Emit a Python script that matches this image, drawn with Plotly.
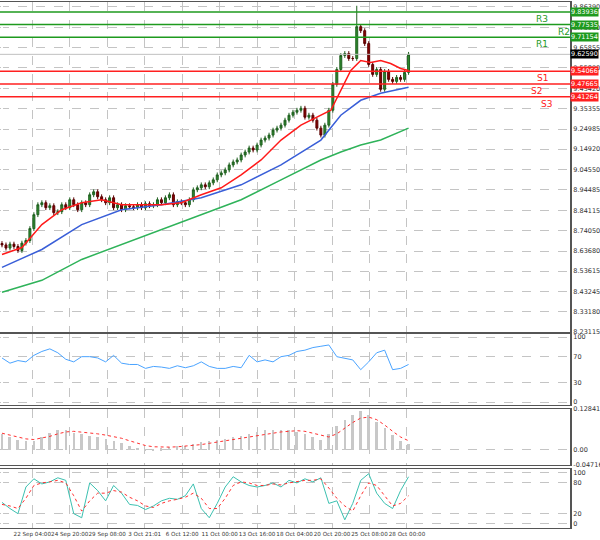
import plotly.graph_objects as go
from plotly.subplots import make_subplots

closes = [8.668,8.652,8.672,8.66,8.64,8.677,8.69,8.75,8.82,8.87,8.88,8.855,8.865,8.83,8.835,8.87,8.855,8.895,8.87,8.845,
8.88,8.87,8.92,8.935,8.91,8.895,8.88,8.905,8.855,8.87,8.845,8.865,8.86,8.855,8.87,8.855,8.875,8.865,8.87,8.895,
8.88,8.905,8.92,8.87,8.885,8.88,8.87,8.895,8.945,8.955,8.97,8.96,8.98,8.995,9.02,9.03,9.045,9.07,9.085,9.095,
9.12,9.135,9.155,9.145,9.17,9.195,9.205,9.22,9.245,9.255,9.27,9.295,9.32,9.335,9.345,9.355,9.31,9.32,9.295,9.255,
9.22,9.27,9.345,9.475,9.55,9.62,9.63,9.605,9.605,9.765,9.745,9.68,9.575,9.525,9.55,9.45,9.54,9.5,9.49,9.51,9.5,9.535,9.6259]
opens = [8.675] + closes[:-1]
highs = [max(o, c) + 0.012 for o, c in zip(opens, closes)]
lows = [min(o, c) - 0.012 for o, c in zip(opens, closes)]
highs[89] = 9.87

ma_x = [0,5,10,15,20,25,30,35,40,45,50,55,60,65,70,75,80,82.5,85,87.5,90,92.5,95,97.5,100,102]
ma_red = [8.62,8.655,8.77,8.845,8.88,8.895,8.87,8.87,8.87,8.88,8.92,8.955,9.02,9.095,9.195,9.27,9.32,9.345,9.445,9.545,9.595,9.585,9.595,9.58,9.555,9.545]
ma_x2 = [0,10,20,30,40,50,60,70,80,85,90,95,102]
ma_blue = [8.555,8.645,8.77,8.845,8.87,8.905,8.97,9.07,9.195,9.32,9.395,9.43,9.46]
ma_green = [8.43,8.49,8.595,8.67,8.745,8.82,8.895,8.995,9.095,9.135,9.17,9.195,9.255]

rsi_x = list(range(0, 103, 2))
rsi = [68,60,64,62,72,78,82,76,66,62,70,70,68,62,72,60,58,58,52,55,54,52,56,53,56,62,55,52,52,55,53,72,62,65,62,70,72,78,80,84,86,88,70,68,65,50,62,76,80,50,52,58]

macd_x = list(range(0, 103, 2))
macd_h = [0.05,0.04,0.032,0.028,0.03,0.042,0.055,0.065,0.062,0.055,0.05,0.045,0.04,0.036,0.03,0.022,0.014,0.008,0.004,0.004,0.006,0.01,0.012,0.014,0.018,0.024,0.028,0.032,0.036,0.04,0.046,0.052,0.058,0.062,0.064,0.064,0.062,0.058,0.05,0.04,0.032,0.05,0.075,0.095,0.112,0.125,0.11,0.09,0.07,0.048,0.03,0.018]
macd_s = [0.052,0.046,0.04,0.034,0.032,0.036,0.042,0.05,0.056,0.058,0.056,0.053,0.05,0.046,0.042,0.036,0.028,0.02,0.013,0.009,0.008,0.008,0.009,0.011,0.013,0.016,0.02,0.024,0.028,0.032,0.036,0.041,0.046,0.05,0.054,0.056,0.058,0.06,0.058,0.052,0.044,0.04,0.05,0.068,0.086,0.1,0.103,0.095,0.078,0.058,0.04,0.028]

st_x = list(range(0, 103, 2))
st_main = [42,30,20,72,88,78,82,90,85,20,12,80,65,45,75,60,38,36,28,35,45,50,48,55,78,30,12,40,72,92,82,75,72,75,80,72,85,80,88,82,90,40,45,8,40,85,98,60,40,30,65,92]
st_sig = [38,35,30,50,75,80,82,85,80,55,25,45,60,60,65,62,52,45,35,32,40,45,48,52,60,50,30,30,50,75,82,80,75,75,78,76,80,82,85,85,88,70,50,35,25,55,80,75,55,35,40,55]

xt_vals = [-1.8, 7.6, 17, 26.4, 35.8, 45.2, 54.6, 64, 73.4, 82.8, 92.2, 101.6]
xt_text = ["21 Sep 12:00","22 Sep 04:00","24 Sep 20:00","29 Sep 08:00","3 Oct 21:01","6 Oct 12:00","11 Oct 00:00",
           "13 Oct 16:00","18 Oct 04:00","20 Oct 20:00","25 Oct 08:00","28 Oct 00:00"]

levels = [("R3",9.83936,"#1e9a1e"),("R2",9.77535,"#1e9a1e"),("R1",9.71154,"#1e9a1e"),
          ("S1",9.54066,"#ff2020"),("S2",9.47665,"#ff2020"),("S3",9.41264,"#ff2020")]
price_ticks = [8.23115,8.33180,8.43245,8.53615,8.63680,8.74050,8.84115,8.94485,9.04550,9.14920,9.24985,9.35355,9.45420,9.55890,9.65855,9.75930,9.86390]
last_price = 9.62590

fig = make_subplots(rows=4, cols=1, shared_xaxes=True)
fig.add_trace(go.Candlestick(x=list(range(len(closes))), open=opens, high=highs, low=lows, close=closes,
    increasing=dict(line=dict(color="#1f5f1f", width=1), fillcolor="#2e8b2e"),
    decreasing=dict(line=dict(color="#5a0000", width=1), fillcolor="#8b0000"),
    whiskerwidth=0), row=1, col=1)
fig.add_trace(go.Scatter(x=ma_x2, y=ma_green, mode="lines", line=dict(color="#2fb35a", width=1.5)), row=1, col=1)
fig.add_trace(go.Scatter(x=ma_x2, y=ma_blue, mode="lines", line=dict(color="#3a5fd8", width=1.5)), row=1, col=1)
fig.add_trace(go.Scatter(x=ma_x, y=ma_red, mode="lines", line=dict(color="#ff1a1a", width=1.5)), row=1, col=1)
fig.add_trace(go.Scatter(x=rsi_x, y=rsi, mode="lines", line=dict(color="#4aa3ff", width=1)), row=2, col=1)
fig.add_trace(go.Bar(x=macd_x, y=macd_h, marker=dict(color="#c8c8c8", line=dict(width=0)), width=0.5), row=3, col=1)
fig.add_trace(go.Scatter(x=macd_x, y=macd_s, mode="lines", line=dict(color="#ff3030", width=1, dash="dot")), row=3, col=1)
fig.add_trace(go.Scatter(x=st_x, y=st_main, mode="lines", line=dict(color="#3cc0b0", width=1)), row=4, col=1)
fig.add_trace(go.Scatter(x=st_x, y=st_sig, mode="lines", line=dict(color="#ff3030", width=1, dash="dot")), row=4, col=1)

xr = [-0.5, 142.5]
for lab, v, c in levels:
    fig.add_shape(type="line", xref="x", yref="y", x0=xr[0], x1=xr[1], y0=v, y1=v, line=dict(color=c, width=1.5))
    fig.add_annotation(xref="paper", yref="y", x=1.0, y=v, text=f"{v:.5f}", showarrow=False, xanchor="left",
                       bgcolor=c, font=dict(color="white", size=6.5), borderpad=0)
lab_x = {"R3":135.5,"R2":141,"R1":135.5,"S1":135.5,"S2":134,"S3":136.5}
for lab, v, c in levels:
    fig.add_annotation(x=lab_x[lab], y=v, yref="y", xref="x", text=lab, showarrow=False, yanchor="top",
                       font=dict(color=c, size=9))
fig.add_shape(type="line", xref="x", yref="y", x0=xr[0], x1=xr[1], y0=last_price, y1=last_price, line=dict(color="#c0c0c0", width=1))
fig.add_annotation(xref="paper", yref="y", x=1.0, y=last_price, text=f"{last_price:.5f}", showarrow=False, xanchor="left",
                   bgcolor="black", font=dict(color="white", size=6.5), borderpad=0)

doms = [[0.373, 1.0], [0.233, 0.369], [0.119, 0.227], [0.0, 0.113]]
ax_common = dict(showgrid=True, gridcolor="#c4c4c4", griddash="dash", gridwidth=1, showline=True, linecolor="#555",
                 linewidth=2, mirror=True, zeroline=False, side="right", ticks="", automargin=False,
                 tickfont=dict(size=6.5, color="#333"))
fig.update_layout(
    yaxis=dict(domain=doms[0], range=[8.2312, 9.889], tickvals=price_ticks, ticktext=[f"{t:.5f}" for t in price_ticks], **ax_common),
    yaxis2=dict(domain=doms[1], range=[-5, 105], tickvals=[0, 30, 70, 100], **ax_common),
    yaxis3=dict(domain=doms[2], range=[-0.05, 0.13], tickvals=[-0.04716, 0.0, 0.128413], ticktext=["-0.04716","0.00","0.128413"], **ax_common),
    yaxis4=dict(domain=doms[3], range=[-8, 108], tickvals=[0, 20, 80, 100], **ax_common),
)
for i in range(1, 5):
    key = "xaxis" if i == 1 else f"xaxis{i}"
    fig.layout[key].update(range=xr, showgrid=True, gridcolor="#c4c4c4", griddash="dash", showline=True, linecolor="#555",
                           mirror=True, linewidth=1, tickvals=xt_vals, ticktext=xt_text if i == 4 else None,
                           showticklabels=(i == 4), rangeslider=dict(visible=False), automargin=False, tickangle=0,
                           tickfont=dict(size=5.6, color="#333"))
fig.update_layout(width=600, height=540, margin=dict(l=0, r=30, t=2, b=12), showlegend=False,
                  plot_bgcolor="white", paper_bgcolor="white", bargap=0, font=dict(family="DejaVu Sans"))
fig.write_html("out.html", config={"displayModeBar": False},
               post_script="document.body.style.margin='0';document.body.style.overflow='hidden';")
